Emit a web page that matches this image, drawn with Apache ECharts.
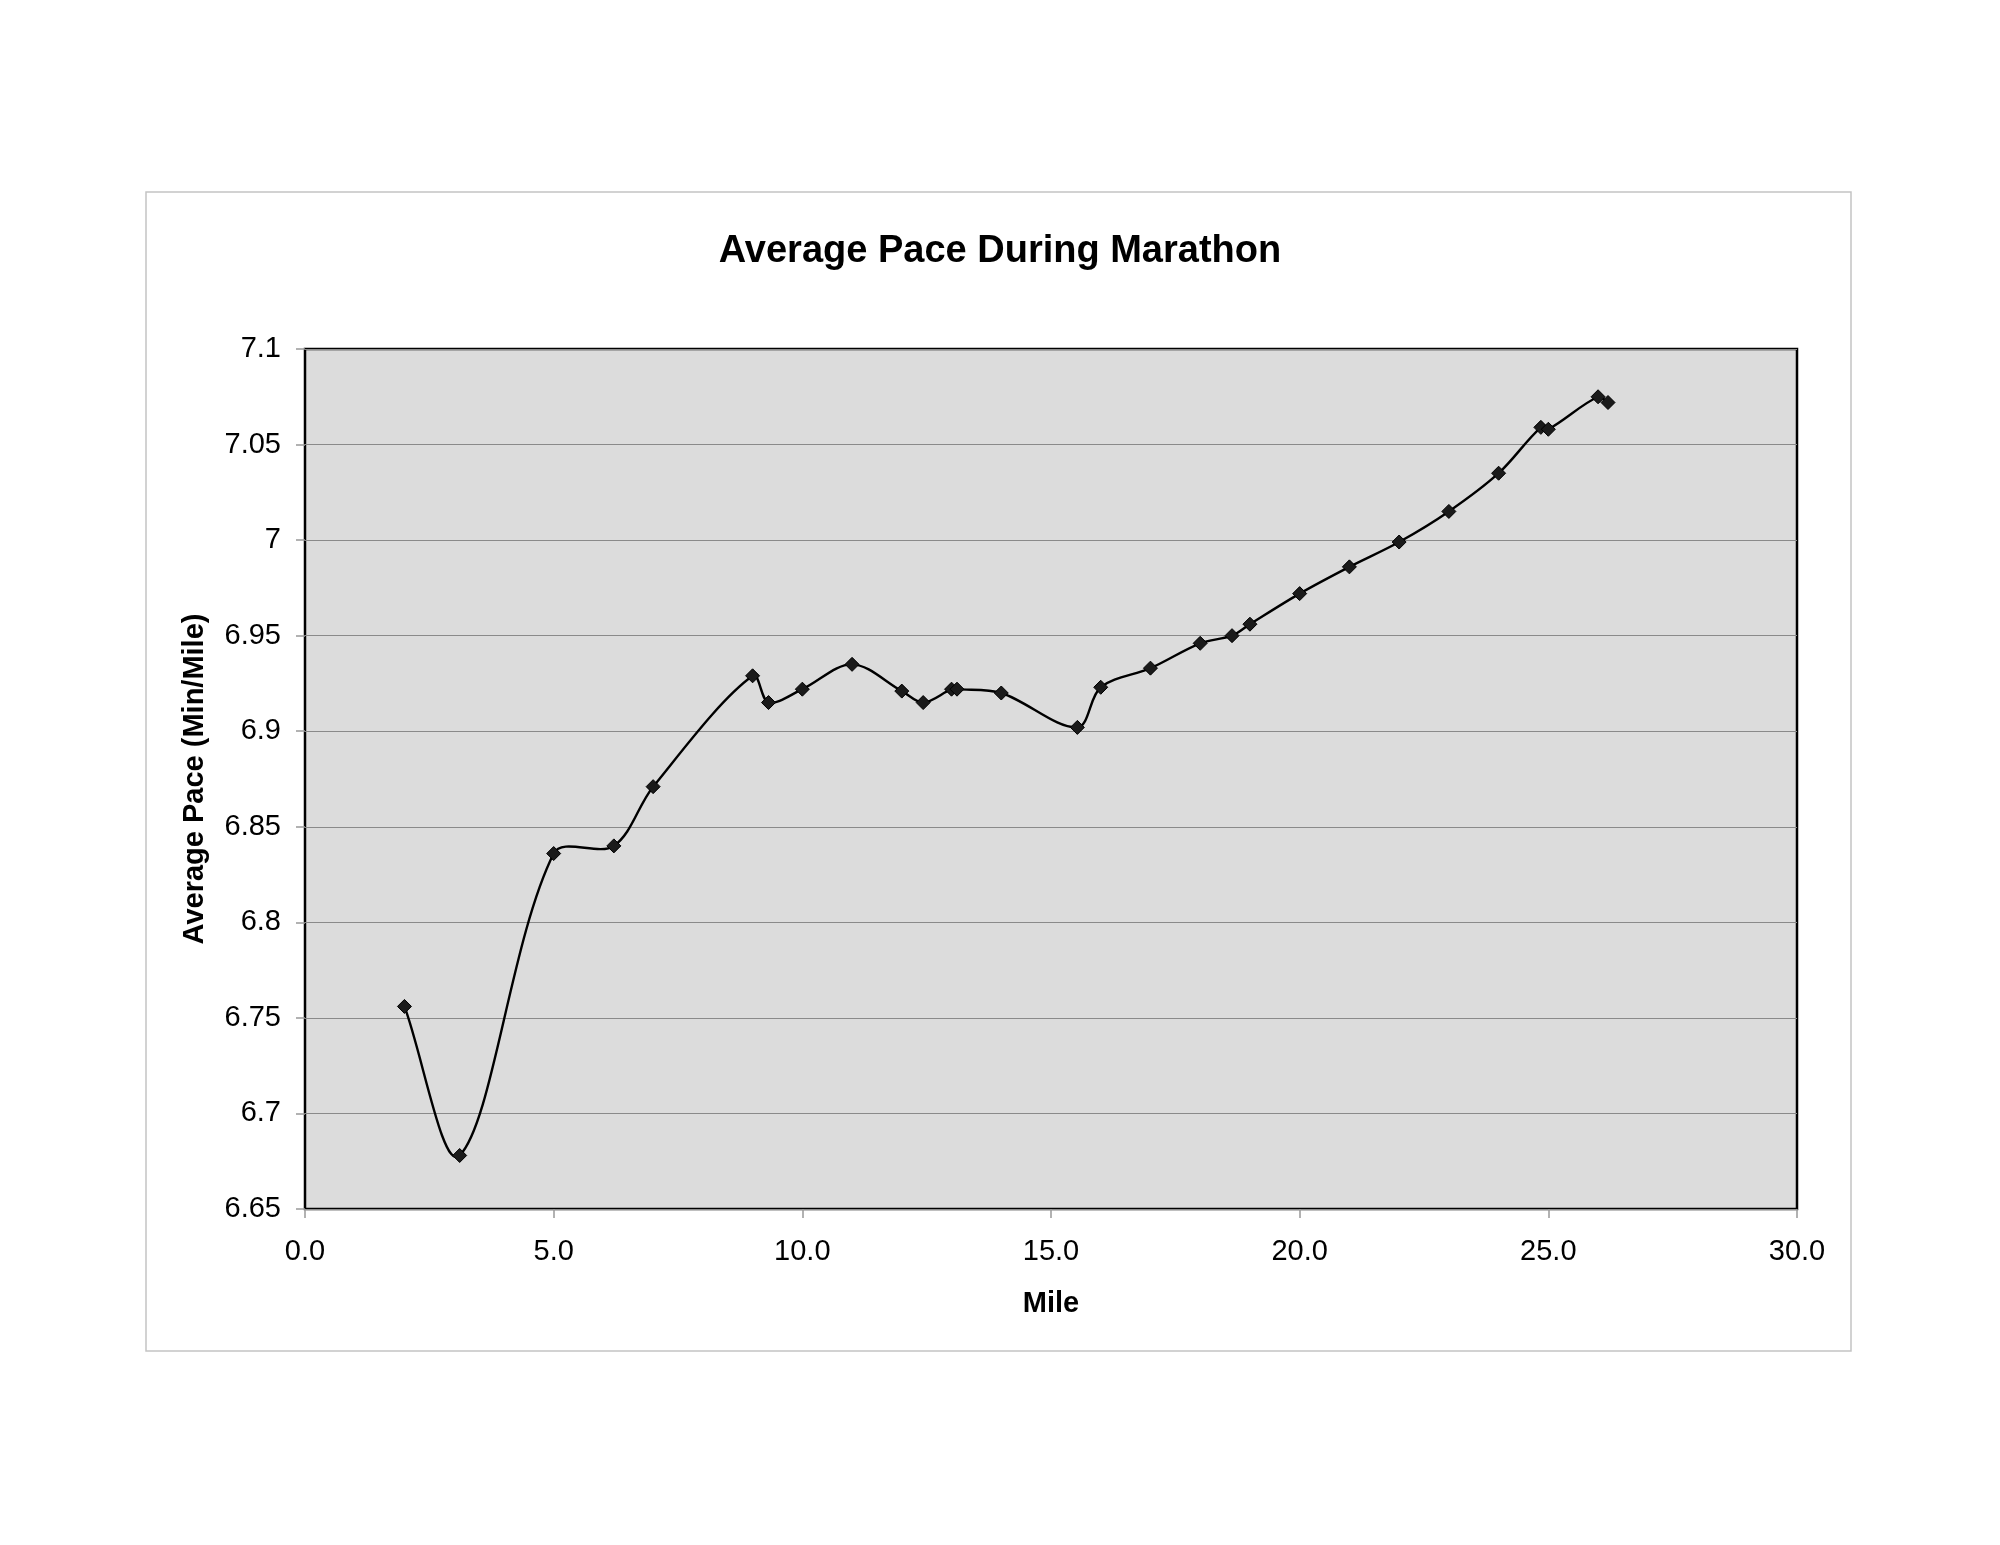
<!DOCTYPE html>
<html>
<head>
<meta charset="utf-8">
<script src="https://cdn.jsdelivr.net/npm/echarts@6/dist/echarts.min.js"></script>
<style>
html,body{margin:0;padding:0;background:#fff;}
#chart{width:2000px;height:1545px;}
</style>
</head>
<body>
<div id="chart"></div>
<script>
// Data
const titleText = 'Average Pace During Marathon';
const xAxisName = 'Mile';
const yAxisName = 'Average Pace (Min/Mile)';
const miles = [2.0, 3.11, 5.0, 6.21, 7.0, 9.0, 9.32, 10.0, 11.0, 12.0, 12.43, 13.0, 13.11, 14.0, 15.53, 16.0, 17.0, 18.0, 18.64, 19.0, 20.0, 21.0, 22.0, 23.0, 24.0, 24.85, 25.0, 26.0, 26.2];
const pace  = [6.756, 6.678, 6.836, 6.840, 6.871, 6.929, 6.915, 6.922, 6.935, 6.921, 6.915, 6.922, 6.922, 6.920, 6.902, 6.923, 6.933, 6.946, 6.950, 6.956, 6.972, 6.986, 6.999, 7.015, 7.035, 7.059, 7.058, 7.075, 7.072];
const xMin = 0, xMax = 30, xStep = 5;
const yMin = 6.65, yMax = 7.1, yStep = 0.05;

const points = miles.map((m, i) => [m, pace[i]]);
const FONT = '"Liberation Sans", Arial, sans-serif';
const n = points.length;

// Smoothed line (spreadsheet-style Bezier smoothing), each segment placed
// through the chart's own axes via api.coord.
function renderSegment(params, api) {
  const i = params.dataIndex;
  if (i >= n - 1) return null;
  const P = j => api.coord(points[Math.max(0, Math.min(n - 1, j))]);
  const p0 = P(i - 1), p1 = P(i), p2 = P(i + 1), p3 = P(i + 2);
  const d = (a, b) => Math.hypot(b[0] - a[0], b[1] - a[1]);
  const d01 = d(p0, p1), d12 = d(p1, p2), d23 = d(p2, p3);
  const f1 = (d01 + d12) > 0 ? d12 / (d01 + d12) / 3 : 0;
  const f2 = (d12 + d23) > 0 ? d12 / (d12 + d23) / 3 : 0;
  return {
    type: 'bezierCurve',
    shape: {
      x1: p1[0], y1: p1[1],
      x2: p2[0], y2: p2[1],
      cpx1: p1[0] + (p2[0] - p0[0]) * f1,
      cpy1: p1[1] + (p2[1] - p0[1]) * f1,
      cpx2: p2[0] - (p3[0] - p1[0]) * f2,
      cpy2: p2[1] - (p3[1] - p1[1]) * f2
    },
    style: {stroke: '#000', lineWidth: 2.4, fill: null}
  };
}

const chart = echarts.init(document.getElementById('chart'), null, {renderer: 'canvas'});
chart.setOption({
  animation: false,
  backgroundColor: '#ffffff',
  graphic: [{
    type: 'rect',
    shape: {x: 146, y: 192, width: 1705, height: 1159},
    style: {fill: 'none', stroke: '#c4c4c4', lineWidth: 1.5},
    silent: true, z: -1
  }],
  title: {
    text: titleText,
    left: 'center',
    top: 228,
    textStyle: {fontFamily: FONT, fontSize: 38, fontWeight: 'bold', color: '#000'}
  },
  grid: {
    left: 305, right: 203, top: 349, bottom: 336,
    show: true,
    backgroundColor: '#dcdcdc',
    borderColor: '#000',
    borderWidth: 2.5
  },
  xAxis: {
    type: 'value',
    min: xMin, max: xMax, interval: xStep,
    name: xAxisName,
    nameLocation: 'middle',
    nameGap: 80,
    nameTextStyle: {fontFamily: FONT, fontSize: 29, fontWeight: 'bold', color: '#000'},
    axisLine: {show: false},
    axisTick: {show: true, length: 9, lineStyle: {color: '#999', width: 1.5}},
    axisLabel: {
      margin: 28,
      fontFamily: FONT, fontSize: 29, color: '#000',
      formatter: v => v.toFixed(1)
    },
    splitLine: {show: false}
  },
  yAxis: {
    type: 'value',
    min: yMin, max: yMax, interval: yStep,
    name: yAxisName,
    nameLocation: 'middle',
    nameGap: 96,
    nameRotate: 90,
    nameTextStyle: {fontFamily: FONT, fontSize: 29, fontWeight: 'bold', color: '#000'},
    axisLine: {show: false},
    axisTick: {show: true, length: 9, lineStyle: {color: '#999', width: 1.5}},
    axisLabel: {
      margin: 24,
      fontFamily: FONT, fontSize: 29, color: '#000',
      formatter: v => String(parseFloat(v.toFixed(2)))
    },
    splitLine: {show: true, lineStyle: {color: '#8a8a8a', width: 1.2}}
  },
  series: [{
    type: 'custom',
    data: points,
    encode: {x: 0, y: 1},
    renderItem: renderSegment,
    silent: true,
    z: 2
  }, {
    type: 'scatter',
    data: points,
    symbol: 'diamond',
    symbolSize: 14,
    itemStyle: {color: '#1a1a1a', borderColor: '#000', borderWidth: 1, opacity: 1},
    z: 3
  }]
});
</script>
</body>
</html>
